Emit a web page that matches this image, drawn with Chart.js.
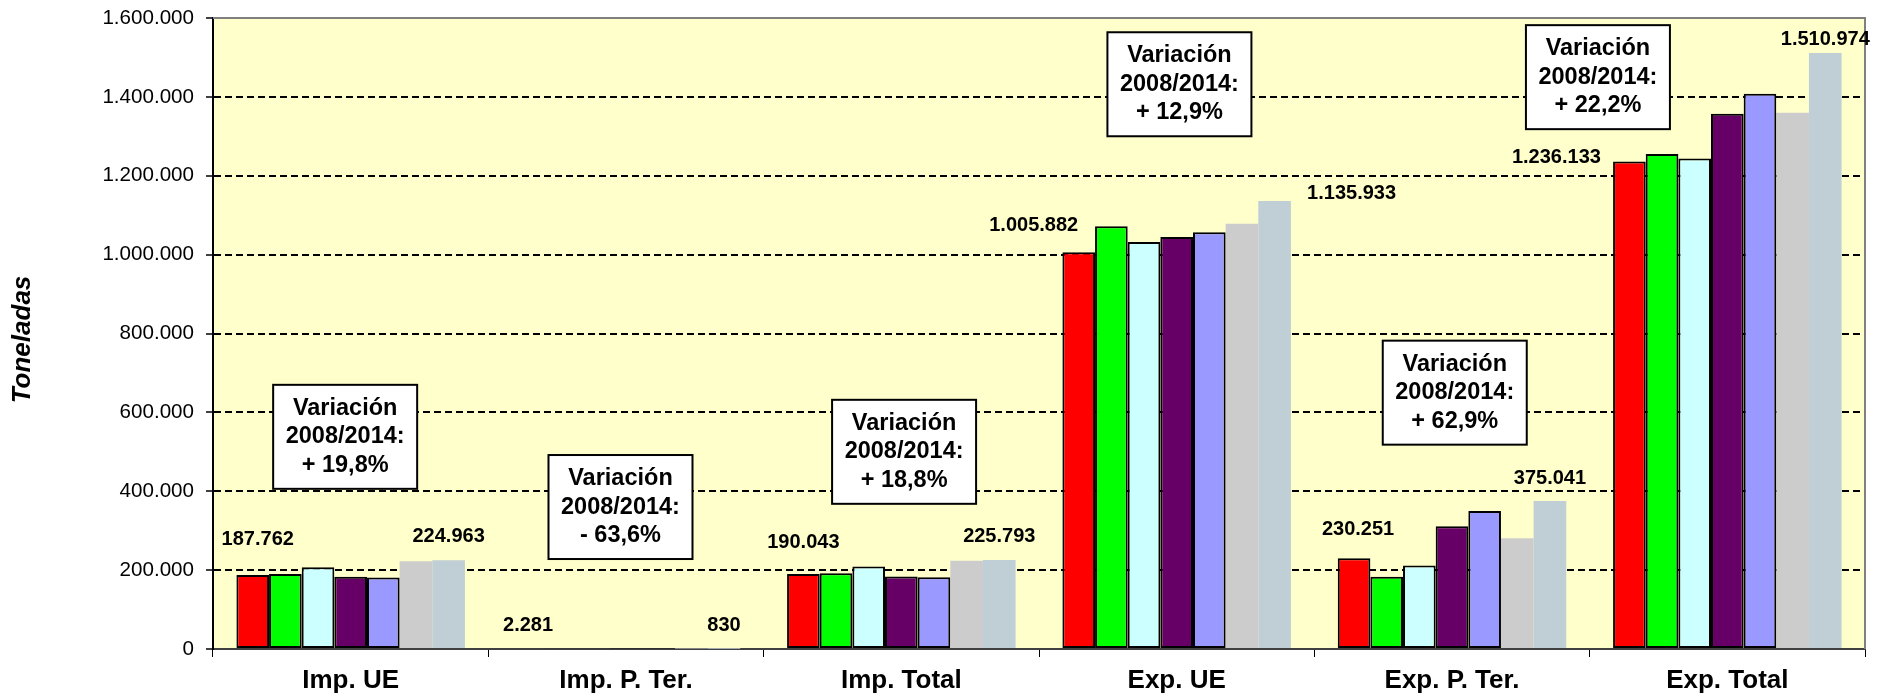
<!DOCTYPE html>
<html>
<head>
<meta charset="utf-8">
<title>Toneladas 2008-2014</title>
<script src="https://cdn.jsdelivr.net/npm/chart.js@4/dist/chart.umd.min.js"></script>
<style>
	html, body { margin: 0; padding: 0; background: #fff; }
	#wrap { width: 1879px; height: 696px; position: relative; }
</style>
</head>
<body>
<div id="wrap"><canvas id="chart"></canvas></div>
<script>
var categories = ['Imp. UE', 'Imp. P. Ter.', 'Imp. Total', 'Exp. UE', 'Exp. P. Ter.', 'Exp. Total'];

// one array per year (2008 .. 2014), values in toneladas
var serie2008 = [187762, 2281, 190043, 1005882, 230251, 1236133];
var serie2009 = [190000, 2000, 192000, 1072000, 183000, 1255000];
var serie2010 = [207000, 2000, 209000, 1032000, 212000, 1244000];
var serie2011 = [183000, 1000, 184000, 1045000, 311000, 1357000];
var serie2012 = [181000, 1000, 182000, 1057000, 350000, 1408000];
var serie2013 = [222500, 1000, 223500, 1078000, 281000, 1360000];
var serie2014 = [224963, 830, 225793, 1135933, 375041, 1510974];

var yTicks = [0, 200000, 400000, 600000, 800000, 1000000, 1200000, 1400000, 1600000];

var yTitle = 'Toneladas';

var variacion = ['+ 19,8%', '- 63,6%', '+ 18,8%', '+ 12,9%', '+ 62,9%', '+ 22,2%'];

// where the variation boxes sit: category offset and value of their centre
var boxPlace = [
	{ dx: -0.02, v: 538000 },
	{ dx: -0.02, v: 360000 },
	{ dx: 0.01, v: 500000 },
	{ dx: 0.01, v: 1432000 },
	{ dx: 0.01, v: 650000 },
	{ dx: -0.47, v: 1450000 }
];

// value labels on first and last bar of each group: [dataset, dx, dy]
var labelPlace = [
	[[0, 5, 35], [6, 0, 24]],
	[[0, 0, 23], [6, 0, 23]],
	[[0, 0, 32], [6, 0, 23]],
	[[0, -45, 27], [6, 77, 8]],
	[[0, 4, 29], [6, 0, 23]],
	[[0, -73, 4], [6, 0, 14]]
];

var FONT = "'Liberation Sans', Arial, Helvetica, sans-serif";

var fmt = function (v) {
	return String(v).replace(/\B(?=(\d{3})+(?!\d))/g, '.');
};

var mkSet = function (label, data, color, border) {
	return {
		label: label,
		data: data,
		backgroundColor: color,
		borderColor: '#000',
		borderWidth: border ? 2 : 0,
		borderSkipped: false,
		barPercentage: 1,
		categoryPercentage: 0.83
	};
};

var plotFrame = {
	id: 'plotFrame',
	beforeDraw: function (chart) {
		var a = chart.chartArea, ctx = chart.ctx;
		ctx.save();
		ctx.fillStyle = '#FFFFCC';
		ctx.fillRect(a.left, a.top, a.right - a.left, a.bottom - a.top);
		ctx.restore();
	},
	beforeDatasetsDraw: function (chart) {
		var a = chart.chartArea, ctx = chart.ctx;
		ctx.save();
		ctx.strokeStyle = '#808080';
		ctx.lineWidth = 2;
		ctx.beginPath();
		ctx.moveTo(a.left, a.top);
		ctx.lineTo(a.right, a.top);
		ctx.lineTo(a.right, a.bottom);
		ctx.stroke();
		ctx.restore();
	},
	afterDraw: function (chart) {
		// axis title, sits a little below the plot middle like the original
		var a = chart.chartArea, ctx = chart.ctx;
		ctx.save();
		ctx.translate(23, (a.top + a.bottom) / 2 + 6);
		ctx.rotate(-Math.PI / 2);
		ctx.font = 'italic bold 26px ' + FONT;
		ctx.fillStyle = '#000';
		ctx.textAlign = 'center';
		ctx.textBaseline = 'middle';
		ctx.fillText(yTitle, 0, 0);
		ctx.restore();
	}
};

var notes = {
	id: 'notes',
	afterDatasetsDraw: function (chart) {
		var ctx = chart.ctx, x = chart.scales.x, y = chart.scales.y;
		ctx.save();

		// value labels
		ctx.font = 'bold 20px ' + FONT;
		ctx.fillStyle = '#000';
		ctx.textAlign = 'center';
		ctx.textBaseline = 'middle';
		for (var i = 0; i < categories.length; i++) {
			for (var k = 0; k < labelPlace[i].length; k++) {
				var p = labelPlace[i][k];
				var bar = chart.getDatasetMeta(p[0]).data[i];
				var val = chart.data.datasets[p[0]].data[i];
				ctx.fillText(fmt(val), bar.x + p[1], bar.y - p[2]);
			}
		}

		// variation boxes
		var w = 144, h = 104;
		for (var j = 0; j < variacion.length; j++) {
			var cx = x.getPixelForValue(j) + boxPlace[j].dx * (x.width / categories.length);
			var cy = y.getPixelForValue(boxPlace[j].v);
			ctx.fillStyle = '#fff';
			ctx.fillRect(cx - w / 2, cy - h / 2, w, h);
			ctx.strokeStyle = '#000';
			ctx.lineWidth = 2;
			ctx.strokeRect(cx - w / 2, cy - h / 2, w, h);
			ctx.fillStyle = '#000';
			ctx.font = 'bold 23.5px ' + FONT;
			ctx.fillText('Variación', cx, cy - 28.5);
			ctx.fillText('2008/2014:', cx, cy);
			ctx.fillText(variacion[j], cx, cy + 28.5);
		}
		ctx.restore();
	}
};

new Chart(document.getElementById('chart'), {
	type: 'bar',
	data: {
		labels: categories,
		datasets: [
			mkSet('2008', serie2008, '#FF0000', true),
			mkSet('2009', serie2009, '#00FF00', true),
			mkSet('2010', serie2010, '#CCFFFF', true),
			mkSet('2011', serie2011, '#660066', true),
			mkSet('2012', serie2012, '#9999FF', true),
			mkSet('2013', serie2013, '#CCCCCC', false),
			mkSet('2014', serie2014, '#C0CED6', false)
		]
	},
	options: {
		responsive: true,
		maintainAspectRatio: false,
		animation: false,
		devicePixelRatio: 1,
		layout: { padding: { top: 18, right: 14, left: 0, bottom: 0 } },
		plugins: {
			legend: { display: false },
			tooltip: { enabled: false }
		},
		scales: {
			x: {
				afterFit: function (s) { s.height = 47; },
				grid: {
					offset: true,
					drawOnChartArea: false,
					tickLength: 8,
					tickColor: '#000',
					lineWidth: 1
				},
				border: { color: '#404040', width: 2 },
				ticks: {
					color: '#000',
					padding: 8,
					font: { family: FONT, size: 26, weight: 'bold' }
				}
			},
			y: {
				min: 0,
				max: 1600000,
				afterFit: function (s) {
					s.width = 213;
					s.paddingTop = 0;
					s.paddingBottom = 0;
				},
				afterBuildTicks: function (s) {
					s.ticks = yTicks.map(function (v) { return { value: v }; });
				},
				grid: {
					color: function (c) {
						var v = c.tick && c.tick.value;
						return (v === 0 || v === 1600000) ? 'rgba(0,0,0,0)' : '#000';
					},
					lineWidth: 2,
					tickColor: '#000',
					tickLength: 7,
					tickWidth: 1.5
				},
				border: { color: '#000', width: 2, dash: [7, 4] },
				ticks: {
					color: '#000',
					padding: 12,
					font: { family: FONT, size: 20.6 },
					callback: function (v) { return fmt(v); }
				}
			}
		}
	},
	plugins: [plotFrame, notes]
});
</script>
</body>
</html>
